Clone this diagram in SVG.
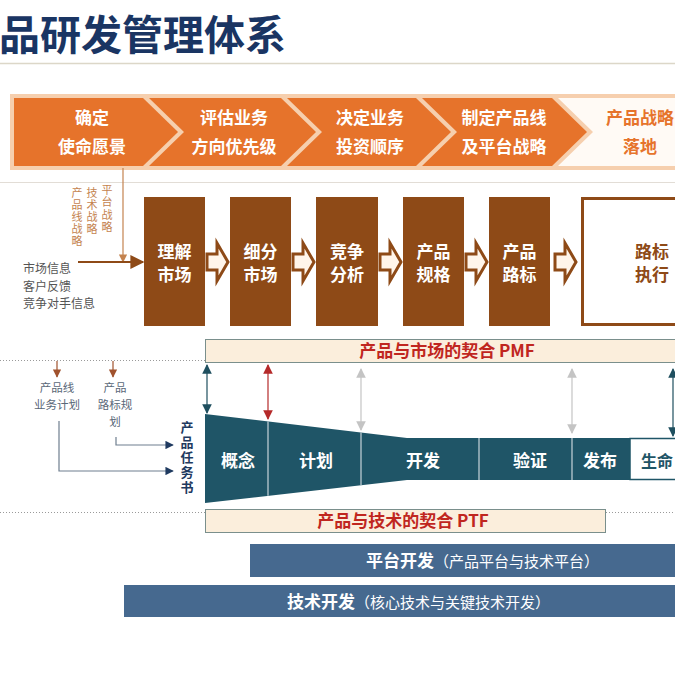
<svg xmlns="http://www.w3.org/2000/svg" width="675" height="675" viewBox="0 0 675 675">
<style>
text{font-family:"Noto Sans CJK SC","Noto Sans",sans-serif}
.b{font-weight:bold}
.vt{writing-mode:vertical-rl;text-orientation:upright}
.ban{font-size:17px;font-weight:bold;fill:#ffffff;text-anchor:middle}
.box{fill:#8e4a17}
.boxt{font-size:17px;font-weight:bold;fill:#ffffff;text-anchor:middle}
.strat{font-size:11px;fill:#c4834f;letter-spacing:1px}
.info{font-size:12px;fill:#555555}
.plan{font-size:11.5px;fill:#5a6878;text-anchor:middle}
.fun{font-size:17px;font-weight:bold;fill:#ffffff;text-anchor:middle}
.fit{fill:#fbeedc;stroke:#7a8f8c;stroke-width:1}
.fitt{font-size:17px;font-weight:bold;fill:#c0261f;text-anchor:middle}
.bar{fill:#46698f}
.bart{font-size:15px;fill:#ffffff}
.dot{stroke:#9a9a9a;stroke-width:1;stroke-dasharray:1 2;fill:none}
.div{stroke:#c8d4da;stroke-width:1.2}
</style>
<defs>
<marker id="mBrown" viewBox="0 0 10 10" refX="9" refY="5" markerWidth="7" markerHeight="7" orient="auto"><path d="M0,0 L10,5 L0,10 Z" fill="#8e4a17"/></marker>
<marker id="mOr" viewBox="0 0 10 10" refX="9" refY="5" markerWidth="7" markerHeight="7" orient="auto"><path d="M0,0 L10,5 L0,10 Z" fill="#c4834f"/></marker>
<marker id="mSmall" viewBox="0 0 10 10" refX="9" refY="5" markerWidth="7" markerHeight="7" orient="auto"><path d="M0,0 L10,5 L0,10 Z" fill="#a0522d"/></marker>
<marker id="mNavy" viewBox="0 0 10 10" refX="9" refY="5" markerWidth="7" markerHeight="7" orient="auto"><path d="M0,0 L10,5 L0,10 Z" fill="#1f3a60"/></marker>
<marker id="mTeal" viewBox="0 0 10 10" refX="9" refY="5" markerWidth="8" markerHeight="8" orient="auto-start-reverse"><path d="M0,0 L10,5 L0,10 Z" fill="#1f4f5f"/></marker>
<marker id="mRed" viewBox="0 0 10 10" refX="9" refY="5" markerWidth="8" markerHeight="8" orient="auto-start-reverse"><path d="M0,0 L10,5 L0,10 Z" fill="#b52a2a"/></marker>
<marker id="mGray" viewBox="0 0 10 10" refX="9" refY="5" markerWidth="8" markerHeight="8" orient="auto-start-reverse"><path d="M0,0 L10,5 L0,10 Z" fill="#c4c4c4"/></marker>
<path id="blk" d="M0,254 H10 V243 L21,262 L10,281 V270 H0 Z" fill="#fff5ea" stroke="#8e4a17" stroke-width="3" stroke-linejoin="miter"/>
</defs>

<rect x="0" y="0" width="675" height="675" fill="#ffffff"/>

<g id="title">
<text x="-1" y="50" class="b" font-size="41" fill="#1a3563">品研发管理体系</text>
<line x1="0" y1="63.5" x2="675" y2="63.5" stroke="#dcd7c8" stroke-width="1.5"/>
</g>

<g id="banner">
<rect x="10" y="94" width="670" height="76" fill="#f6cfae"/>
<polygon points="14,98 143,98 178,132 143,166 14,166" fill="#e6732b"/>
<polygon points="149,98 281,98 316,132 281,166 149,166 184,132" fill="#e6732b"/>
<polygon points="287,98 416,98 451,132 416,166 287,166 322,132" fill="#e6732b"/>
<polygon points="422,98 552,98 587,132 552,166 422,166 457,132" fill="#e6732b"/>
<polygon points="558,98 680,98 680,166 558,166 593,132" fill="#fffaf5"/>
</g>
<g id="step1"><text class="ban" x="92" y="124">确定</text><text class="ban" x="92" y="153">使命愿景</text></g>
<g id="step2"><text class="ban" x="234" y="124">评估业务</text><text class="ban" x="234" y="153">方向优先级</text></g>
<g id="step3"><text class="ban" x="370" y="124">决定业务</text><text class="ban" x="370" y="153">投资顺序</text></g>
<g id="step4"><text class="ban" x="504" y="124">制定产品线</text><text class="ban" x="504" y="153">及平台战略</text></g>
<g id="step5"><text class="ban" x="640" y="124" style="fill:#e6732b">产品战略</text><text class="ban" x="640" y="153" style="fill:#e6732b">落地</text></g>

<line x1="0" y1="182.5" x2="675" y2="182.5" stroke="#e2ddd6" stroke-width="1"/>

<g id="strategy">
<text class="strat vt" x="77" y="187">产品线战略</text>
<text class="strat vt" x="92" y="187">技术战略</text>
<text class="strat vt" x="107" y="184" style="letter-spacing:1.5px">平台战略</text>
</g>
<g id="inputs">
<text class="info" x="23" y="273">市场信息</text>
<text class="info" x="23" y="291">客户反馈</text>
<text class="info" x="23" y="308">竞争对手信息</text>
</g>

<g id="n1"><rect class="box" x="144" y="197" width="61" height="129"/><text class="boxt" x="174.5" y="258">理解</text><text class="boxt" x="174.5" y="281">市场</text></g>
<g id="n2"><rect class="box" x="230" y="197" width="61" height="129"/><text class="boxt" x="260.5" y="258">细分</text><text class="boxt" x="260.5" y="281">市场</text></g>
<g id="n3"><rect class="box" x="316" y="197" width="62" height="129"/><text class="boxt" x="347" y="258">竞争</text><text class="boxt" x="347" y="281">分析</text></g>
<g id="n4"><rect class="box" x="403" y="197" width="61" height="129"/><text class="boxt" x="433.5" y="258">产品</text><text class="boxt" x="433.5" y="281">规格</text></g>
<g id="n5"><rect class="box" x="489" y="197" width="61" height="129"/><text class="boxt" x="519.5" y="258">产品</text><text class="boxt" x="519.5" y="281">路标</text></g>
<g id="n6"><rect x="582.5" y="198.5" width="100" height="126" fill="#ffffff" stroke="#8e4a17" stroke-width="3"/><text class="boxt" x="652" y="258" style="fill:#8e4a17">路标</text><text class="boxt" x="652" y="281" style="fill:#8e4a17">执行</text></g>

<g id="pmf"><rect class="fit" x="205.5" y="339.5" width="480" height="23"/><text class="fitt" x="447" y="357">产品与市场的契合 PMF</text></g>

<g id="plans">
<text class="plan"><tspan x="57" y="392">产品线</tspan><tspan x="57" y="409">业务计划</tspan></text>
<text class="plan"><tspan x="115" y="392">产品</tspan><tspan x="115" y="409">路标规</tspan><tspan x="115" y="426">划</tspan></text>
</g>
<g id="taskbook">
<text class="b vt" x="187" y="421" font-size="13" fill="#1f3a5f" style="letter-spacing:1.8px">产品任务书</text>
</g>

<g id="funnel">
<polygon points="205,414 407,438 630,438 630,480 407,480 205,503" fill="#1f5567"/>
<line class="div" x1="268" y1="421.5" x2="268" y2="495.8"/>
<line class="div" x1="361" y1="432.5" x2="361" y2="485.2"/>
<line class="div" x1="479" y1="438" x2="479" y2="480"/>
<line class="div" x1="572" y1="438" x2="572" y2="480"/>
<text class="fun" x="238" y="467">概念</text>
<text class="fun" x="316" y="467">计划</text>
<text class="fun" x="423" y="467">开发</text>
<text class="fun" x="530" y="467">验证</text>
<text class="fun" x="600" y="467">发布</text>
</g>
<g id="life"><rect x="630" y="438.5" width="50" height="41" fill="#ffffff" stroke="#1f5567" stroke-width="1.5"/><text class="fun" x="641" y="467" style="fill:#1f5567;text-anchor:start;font-size:16px">生命</text></g>

<g id="ptf"><rect class="fit" x="205.5" y="509.5" width="400" height="23"/><text class="fitt" x="403" y="527">产品与技术的契合 PTF</text></g>

<g id="platform"><rect class="bar" x="250" y="544" width="430" height="33"/><text class="bart" x="366" y="567"><tspan class="b" font-size="17">平台开发</tspan>（产品平台与技术平台）</text></g>
<g id="tech"><rect class="bar" x="124" y="585" width="556" height="32"/><text class="bart" x="287" y="608"><tspan class="b" font-size="17">技术开发</tspan>（核心技术与关键技术开发）</text></g>

<g id="connectors">
<line x1="123" y1="168" x2="123" y2="262" stroke="#c4834f" stroke-width="1.2" marker-end="url(#mOr)"/>
<line x1="78" y1="262" x2="143" y2="262" stroke="#8e4a17" stroke-width="2" marker-end="url(#mBrown)"/>
<use href="#blk" x="207"/>
<use href="#blk" x="293"/>
<use href="#blk" x="380"/>
<use href="#blk" x="466"/>
<use href="#blk" x="555"/>
<line class="dot" x1="0" y1="360.5" x2="205" y2="360.5"/>
<line class="dot" x1="0" y1="512.5" x2="205" y2="512.5"/>
<line class="dot" x1="606" y1="512.5" x2="675" y2="512.5"/>
<line x1="57" y1="361" x2="57" y2="377" stroke="#a0522d" stroke-width="1.2" marker-end="url(#mSmall)"/>
<line x1="113" y1="361" x2="113" y2="377" stroke="#a0522d" stroke-width="1.2" marker-end="url(#mSmall)"/>
<path d="M59,421 V471 H173" fill="none" stroke="#6f7f8f" stroke-width="1.2" marker-end="url(#mNavy)"/>
<path d="M116,437 V445 H173" fill="none" stroke="#6f7f8f" stroke-width="1.2" marker-end="url(#mNavy)"/>
<line x1="207" y1="365" x2="207" y2="413" stroke="#1f4f5f" stroke-width="1.2" marker-start="url(#mTeal)" marker-end="url(#mTeal)"/>
<line x1="268" y1="365" x2="268" y2="419" stroke="#b52a2a" stroke-width="1.2" marker-start="url(#mRed)" marker-end="url(#mRed)"/>
<line x1="361" y1="369" x2="361" y2="430" stroke="#c4c4c4" stroke-width="1.2" marker-start="url(#mGray)" marker-end="url(#mGray)"/>
<line x1="572" y1="369" x2="572" y2="433" stroke="#c4c4c4" stroke-width="1.2" marker-start="url(#mGray)" marker-end="url(#mGray)"/>
<line x1="673" y1="369" x2="673" y2="436" stroke="#1f4f5f" stroke-width="1.2" marker-start="url(#mTeal)" marker-end="url(#mTeal)"/>
</g>
</svg>
